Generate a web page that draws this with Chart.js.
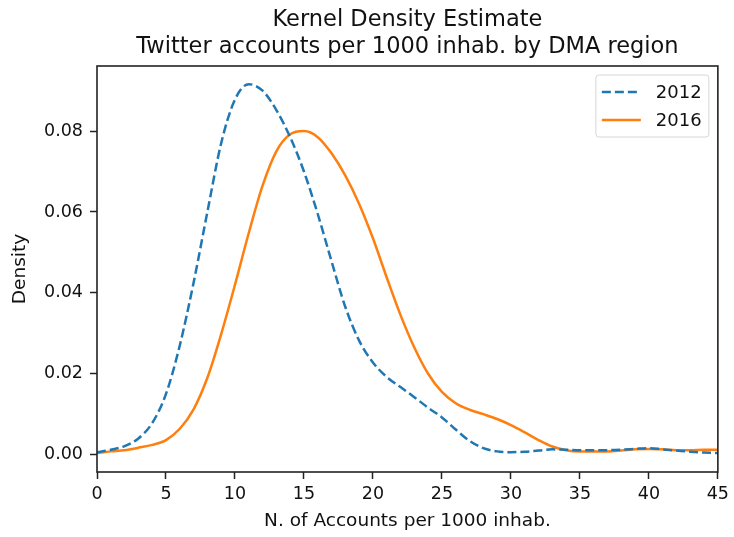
<!DOCTYPE html>
<html>
<head>
<meta charset="utf-8">
<script src="https://cdn.jsdelivr.net/npm/chart.js@4/dist/chart.umd.min.js"></script>
<style>
  html, body { margin: 0; padding: 0; background: #fff; }
  #wrap { width: 734px; height: 537px; }
</style>
</head>
<body>
<div id="wrap"><canvas id="kdeChart" width="734" height="537"></canvas></div>
<script>
// x grid (accounts per 1000 inhab.) and the density
const xValues = [0, 1, 2, 3, 4, 5, 6, 7, 8, 9, 10, 11, 12, 13, 14, 15, 16, 17, 18, 19, 20, 21, 22,
    23, 24, 25, 26, 27, 28, 29, 30, 31, 32, 33, 34, 35, 36, 37, 38, 39, 40, 41, 42, 43, 44, 45];

const density2012 = [0.0006, 0.0012, 0.0021, 0.0040, 0.0078, 0.0150, 0.0270, 0.0425, 0.0600, 0.0770,
    0.0878, 0.0916, 0.0900, 0.0852, 0.0785, 0.0700, 0.0595, 0.0478, 0.0365, 0.0282,
    0.0228, 0.0192, 0.0167, 0.0142, 0.0116, 0.0092, 0.0062, 0.0034, 0.0016, 0.0008,
    0.0006, 0.0007, 0.0010, 0.0013, 0.0012, 0.0011, 0.0011, 0.0011, 0.0012, 0.0014,
    0.0016, 0.0013, 0.0010, 0.0007, 0.0005, 0.0004];

const density2016 = [0.0004, 0.0008, 0.0011, 0.0017, 0.0024, 0.0036, 0.0064, 0.0112, 0.0190, 0.0298,
    0.0420, 0.0548, 0.0665, 0.0750, 0.0792, 0.0800, 0.0785, 0.0745, 0.0690, 0.0620,
    0.0535, 0.0438, 0.0345, 0.0265, 0.0200, 0.0155, 0.0127, 0.0111, 0.0100, 0.0088,
    0.0073, 0.0055, 0.0036, 0.0020, 0.0011, 0.0008, 0.0008, 0.0008, 0.0010, 0.0013,
    0.0014, 0.0013, 0.0011, 0.0011, 0.0012, 0.0012];

const seriesLabels = ['2012', '2016'];
const xTicks = [0, 5, 10, 15, 20, 25, 30, 35, 40, 45];
const yTicks = [0, 0.02, 0.04, 0.06, 0.08];

const titleLines = ['Kernel Density Estimate', 'Twitter accounts per 1000 inhab. by DMA region'];

const FONT = "'DejaVu Sans', sans-serif";
const INK = '#111';

function toPoints(ys) {
    return xValues.map((x, i) => ({ x: x, y: ys[i] }));
}

// matplotlib style frame round the axes
const framePlugin = {
    id: 'frame',
    afterDraw(chart) {
        const { ctx, chartArea: a } = chart;
        ctx.save();
        ctx.strokeStyle = '#222';
        ctx.lineWidth = 1.6;
        ctx.strokeRect(a.left, a.top, a.right - a.left, a.bottom - a.top);
        ctx.restore();
    }
};

// boxed legend in the upper right corner of the axes
const boxLegend = {
    id: 'boxLegend',
    afterDraw(chart) {
        const { ctx, chartArea: a } = chart;
        const sets = chart.data.datasets;
        const w = 113, rowH = 28;
        const h = sets.length * rowH + 6;
        const x0 = a.right - 9 - w;
        const y0 = a.top + 9;

        ctx.save();
        ctx.beginPath();
        ctx.roundRect(x0, y0, w, h, 3);
        ctx.fillStyle = 'rgba(255,255,255,0.8)';
        ctx.fill();
        ctx.strokeStyle = '#d6d6d6';
        ctx.lineWidth = 1;
        ctx.stroke();

        ctx.font = '18px ' + FONT;
        ctx.textBaseline = 'middle';
        ctx.textAlign = 'left';
        sets.forEach((ds, i) => {
            const y = y0 + 17 + i * rowH;
            ctx.beginPath();
            ctx.setLineDash(ds.borderDash || []);
            ctx.strokeStyle = ds.borderColor;
            ctx.lineWidth = ds.borderWidth;
            ctx.moveTo(x0 + 6, y);
            ctx.lineTo(x0 + 45, y);
            ctx.stroke();
            ctx.setLineDash([]);
            ctx.fillStyle = INK;
            ctx.fillText(ds.label, x0 + 60, y + 1);
        });
        ctx.restore();
    }
};

const ctx = document.getElementById('kdeChart').getContext('2d');

const kdeChart = new Chart(ctx, {
    type: 'line',
    data: {
        datasets: [{
            label: seriesLabels[0],
            data: toPoints(density2012),
            borderColor: '#1f77b4',
            borderWidth: 2.5,
            borderDash: [9, 4],
            pointRadius: 0,
            cubicInterpolationMode: 'monotone',
            fill: false
        }, {
            label: seriesLabels[1],
            data: toPoints(density2016),
            borderColor: '#ff7f0e',
            borderWidth: 2.5,
            pointRadius: 0,
            cubicInterpolationMode: 'monotone',
            fill: false
        }]
    },
    options: {
        responsive: false,
        animation: false,
        events: [],
        layout: { padding: { left: 0, right: 13, top: 0, bottom: 0 } },
        plugins: {
            legend: { display: false },
            tooltip: { enabled: false },
            title: {
                display: true,
                fullSize: false,
                text: titleLines,
                color: INK,
                font: { family: FONT, size: 22.5, weight: 'normal', lineHeight: 27 / 22.5 },
                padding: { top: 7, bottom: 5 }
            }
        },
        scales: {
            x: {
                type: 'linear',
                min: 0,
                max: 45,
                afterBuildTicks(scale) {
                    scale.ticks = xTicks.map(v => ({ value: v }));
                },
                afterFit(scale) {
                    scale.height = 65;
                },
                border: { display: false },
                grid: {
                    drawOnChartArea: false,
                    drawTicks: true,
                    tickLength: 7,
                    tickColor: '#222',
                    tickWidth: 1.5
                },
                ticks: {
                    color: INK,
                    padding: 5,
                    maxRotation: 0,
                    font: { family: FONT, size: 17.5 },
                    callback: v => String(v)
                },
                title: {
                    display: true,
                    text: 'N. of Accounts per 1000 inhab.',
                    color: INK,
                    font: { family: FONT, size: 18.5, lineHeight: 1.2 },
                    padding: { top: 0, bottom: 5 }
                }
            },
            y: {
                type: 'linear',
                min: -0.0043,
                max: 0.0961,
                afterBuildTicks(scale) {
                    scale.ticks = yTicks.map(v => ({ value: v }));
                },
                afterFit(scale) {
                    scale.width = 97;
                },
                border: { display: false },
                grid: {
                    drawOnChartArea: false,
                    drawTicks: true,
                    tickLength: 7,
                    tickColor: '#222',
                    tickWidth: 1.5
                },
                ticks: {
                    color: INK,
                    padding: 7,
                    font: { family: FONT, size: 17.5 },
                    callback: v => v.toFixed(2)
                },
                title: {
                    display: true,
                    text: 'Density',
                    color: INK,
                    font: { family: FONT, size: 18.5, lineHeight: 1.2 },
                    padding: { top: 9, bottom: 0 }
                }
            }
        }
    },
    plugins: [framePlugin, boxLegend]
});
</script>
</body>
</html>
